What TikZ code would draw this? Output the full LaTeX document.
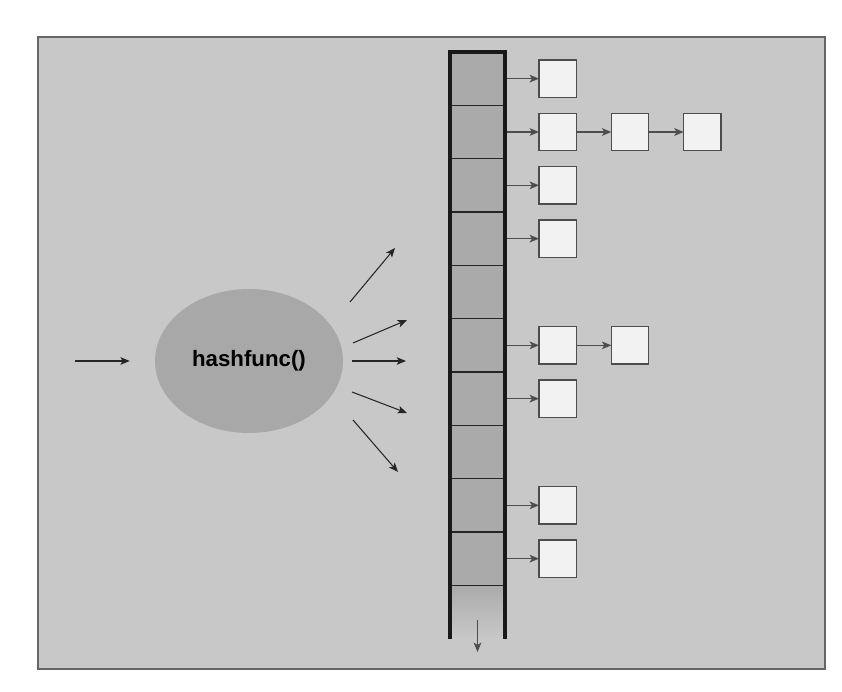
\documentclass[tikz,border=0pt]{standalone}
\usepackage{fontspec}
\setmainfont{Liberation Sans}
\usetikzlibrary{positioning,shapes.geometric,arrows.meta}

\definecolor{panel}{HTML}{C8C8C8}
\definecolor{slot}{HTML}{AAAAAA}
\definecolor{blob}{HTML}{A8A8A8}
\definecolor{item}{HTML}{F2F2F2}
\definecolor{wire}{HTML}{4D4D4D}

\tikzset{
  >={Stealth[length=8pt,width=6.5pt,inset=2pt]},
  slotcell/.style={fill=slot, minimum width=1.65cm, minimum height=1.6cm, inner sep=0pt, outer sep=0pt},
  itembox/.style={draw=wire, line width=1.2pt, fill=item, minimum size=1.12cm, inner sep=0pt, outer sep=0pt},
  link/.style={->, wire, line width=1.2pt},
  fan/.style={->, black!85, line width=0.9pt},
}

\begin{document}
\begin{tikzpicture}
  \useasboundingbox (0,0) rectangle (25.26,20.76);
  \draw[line width=1.5pt, draw=black!60, fill=panel] (1.14,0.69) rectangle (24.75,19.65);

  % hash function and its fan of arrows
  \node[ellipse, fill=blob, minimum width=5.64cm, minimum height=4.32cm, inner sep=0pt] (hash) at (7.47,9.93) {\fontsize{19}{22}\selectfont\bfseries hashfunc()};
  \coordinate (in) at (2.25,9.93);
  \draw[fan, shorten >=0.75cm] (in) -- (in -| hash.west);
  \coordinate (s1) at (10.5,11.7);   \coordinate (t1) at (11.85,13.32);
  \coordinate (s2) at (10.59,10.47); \coordinate (t2) at (12.21,11.16);
  \coordinate (s3) at (10.56,9.93);  \coordinate (t3) at (12.18,9.93);
  \coordinate (s4) at (10.56,9.0);   \coordinate (t4) at (12.21,8.37);
  \coordinate (s5) at (10.59,8.16);  \coordinate (t5) at (11.94,6.6);
  \draw[fan] (s1) -- (t1);
  \draw[fan] (s2) -- (t2);
  \draw[fan] (s3) -- (t3);
  \draw[fan] (s4) -- (t4);
  \draw[fan] (s5) -- (t5);

  % the table
  \foreach \i in {1,...,10}
    \node[slotcell] (c\i) at (14.325,20-1.6*\i) {};
  \node[slotcell, fill=none, top color=slot, middle color=slot, bottom color=panel] (c11) at (14.325,2.4) {};
  \foreach \i in {1,...,10}
    \draw[line width=1.2pt, black!85] (c\i.south west) -- (c\i.south east);

  % chains
  \node[itembox, right=1.02cm of c1] (b1) {};
  \node[itembox, right=1.02cm of c2] (b2) {};
  \node[itembox, right=1.05cm of b2] (b2a) {};
  \node[itembox, right=1.05cm of b2a] (b2b) {};
  \node[itembox, right=1.02cm of c3] (b3) {};
  \node[itembox, right=1.02cm of c4] (b4) {};
  \node[itembox, right=1.02cm of c6] (b6) {};
  \node[itembox, right=1.05cm of b6] (b6a) {};
  \node[itembox, right=1.02cm of c7] (b7) {};
  \node[itembox, right=1.02cm of c9] (b9) {};
  \node[itembox, right=1.02cm of c10] (b10) {};
  \draw[link] (c1) -- (b1);
  \draw[link] (c2) -- (b2);
  \draw[link] (b2) -- (b2a);
  \draw[link] (b2a) -- (b2b);
  \draw[link] (c3) -- (b3);
  \draw[link] (c4) -- (b4);
  \draw[link] (c6) -- (b6);
  \draw[link] (b6) -- (b6a);
  \draw[link] (c7) -- (b7);
  \draw[link] (c9) -- (b9);
  \draw[link] (c10) -- (b10);
  \coordinate (nil) at (14.325,1.2);
  \draw[link] ([yshift=-0.25cm]c11.center) -- (nil);

  \draw[line width=4pt, black!90] (c11.south west) -- (c1.north west) -- (c1.north east) -- (c11.south east);
\end{tikzpicture}
\end{document}
